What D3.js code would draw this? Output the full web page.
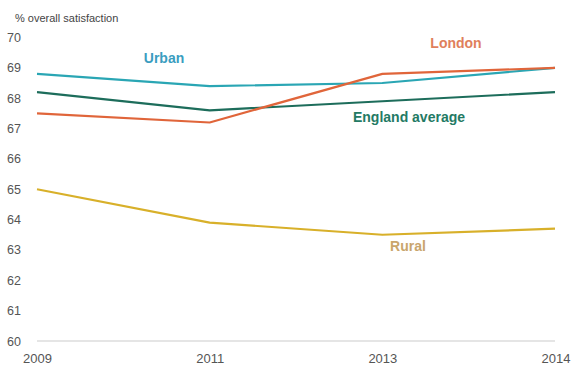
<!DOCTYPE html>
<html>
<head>
<meta charset="utf-8">
<script src="https://cdn.jsdelivr.net/npm/d3@7"></script>
<style>
  html, body { margin: 0; padding: 0; background: #fff; }
  svg { display: block; font-family: "Liberation Sans", Arial, sans-serif; }
</style>
</head>
<body>
<svg id="chart" width="571" height="369"></svg>
<script>
const years = ["2009", "2011", "2013", "2014"];
const yTicks = [60, 61, 62, 63, 64, 65, 66, 67, 68, 69, 70];
const rural = [65.0, 63.9, 63.5, 63.7];
const englandAverage = [68.2, 67.6, 67.9, 68.2];
const urban = [68.8, 68.4, 68.5, 69.0];
const london = [67.5, 67.2, 68.8, 69.0];
const seriesNames = ["Rural", "England average", "Urban", "London"];

const svg = d3.select("#chart");
const x = d3.scalePoint().domain(years).range([37, 555]);
const y = d3.scaleLinear().domain([60, 70]).range([341, 37.5]);

// axis title
svg.append("text").attr("x", 15).attr("y", 22)
  .attr("font-size", 11).attr("fill", "#444").text("% overall satisfaction");

// y tick labels
const yAxis = d3.axisLeft(y).tickValues(yTicks).tickSize(0).tickPadding(0);
const gy = svg.append("g").attr("transform", "translate(7,0)").call(yAxis);
gy.select(".domain").remove();
gy.selectAll("text").attr("text-anchor", "start").attr("font-size", 12.5)
  .attr("fill", "#555").attr("font-family", "Liberation Sans, Arial, sans-serif");

// baseline
svg.append("line").attr("x1", x("2009")).attr("x2", x("2014"))
  .attr("y1", y(60)).attr("y2", y(60)).attr("stroke", "#dcdcdc").attr("stroke-width", 1.5);

// x tick labels
const xAxis = d3.axisBottom(x).tickSize(0).tickPadding(0);
const gx = svg.append("g").attr("transform", "translate(0,354)").call(xAxis);
gx.select(".domain").remove();
gx.selectAll("text").attr("font-size", 13).attr("fill", "#555")
  .attr("font-family", "Liberation Sans, Arial, sans-serif")
  .attr("text-anchor", d => d === "2014" ? "end" : "middle")
  .attr("dx", d => d === "2014" ? 15 : 0);

const series = [
  { name: seriesNames[0], values: rural, color: "#d8b02a", label: "#c9a56c", lx: 408, ly: 251 },
  { name: seriesNames[1], values: englandAverage, color: "#1d6d5b", label: "#237a64", lx: 409, ly: 122 },
  { name: seriesNames[2], values: urban, color: "#2aa6b4", label: "#3a9dc0", lx: 164, ly: 63 },
  { name: seriesNames[3], values: london, color: "#e0653a", label: "#e07f5c", lx: 456, ly: 48 }
];

const line = d3.line().x((d, i) => x(years[i])).y(d => y(d));

series.forEach(s => {
  svg.append("path").datum(s.values).attr("d", line)
    .attr("fill", "none").attr("stroke", s.color).attr("stroke-width", 2.2)
    .attr("stroke-linejoin", "round");
});

series.forEach(s => {
  svg.append("text").attr("x", s.lx).attr("y", s.ly)
    .attr("text-anchor", "middle").attr("font-size", 14).attr("font-weight", "bold")
    .attr("fill", s.label).text(s.name);
});
</script>
</body>
</html>
